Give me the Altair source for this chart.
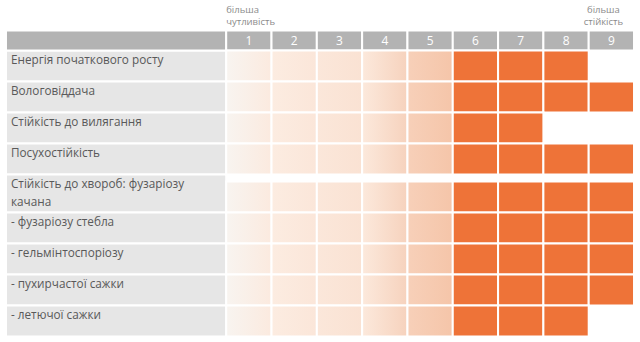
import altair as alt
import pandas as pd

# ---- data ----
traits = [
    "Енергія початкового росту",
    "Вологовіддача",
    "Стійкість до вилягання",
    "Посухостійкість",
    "Стійкість до хвороб: фузаріозу\nкачана",
    "- фузаріозу стебла",
    "- гельмінтоспоріозу",
    "- пухирчастої сажки",
    "- летючої сажки",
]
scores = [8, 9, 7, 9, 9, 9, 9, 9, 8]
scale_points = [1, 2, 3, 4, 5, 6, 7, 8, 9]
note_low = "більша\nчутливість"
note_high = "більша\nстійкість"

# ---- style / layout constants ----
FONT = "Open Sans"
LABEL_W = 4.86          # width of the label column in column units
HEADER_H = 0.645        # header row height in row units
ANNOT_H = 0.807         # space above header
EXTRA_LINE = 0.226      # extra row height per extra text line
ORANGE = "#ee7338"
GRAD = {
    1: ("#f8f4f0", "#fbeadf"),
    2: ("#fcece1", "#fbe6d9"),
    3: ("#fbe7da", "#fae2d3"),
    4: ("#fce9dc", "#f6d2bd"),
    5: ("#f7d0b9", "#f5c5a9"),
}

# ---- tables ----
rows = []
bottom = 0.0
for t, s in zip(traits, scores):
    h = 1 + EXTRA_LINE * t.count("\n")
    top = bottom
    bottom = top + h
    rows.append({"trait": t, "score": s, "top": top, "bottom": bottom,
                 "x0": -LABEL_W, "x1": 0})
rows_df = pd.DataFrame(rows)
TOTAL = bottom

cells = []
for r in rows:
    for c in scale_points:
        if c <= r["score"]:
            cells.append({"trait": r["trait"], "col": c, "x0": c - 1, "x1": c,
                          "y0": r["bottom"] - 1, "y1": r["bottom"]})
cells_df = pd.DataFrame(cells)

header = [{"lab": "", "x0": -LABEL_W, "x1": 0, "xc": -LABEL_W / 2}]
header += [{"lab": str(c), "x0": c - 1, "x1": c, "xc": c - 0.5} for c in scale_points]
header_df = pd.DataFrame(header)
header_df["y0"] = -HEADER_H
header_df["y1"] = 0.0
header_df["ym"] = -HEADER_H / 2

TOP = -(HEADER_H + ANNOT_H)
notes_df = pd.DataFrame([{"txt": note_low, "x": scale_points[0] - 1, "y": TOP}])
notes2_df = pd.DataFrame([{"txt": note_high, "x": scale_points[-1] - 0.5, "y": TOP}])

xs = alt.Scale(domain=[-LABEL_W, 9], nice=False, zero=False)
ys = alt.Scale(domain=[TOP, TOTAL], nice=False, zero=False, reverse=True)


def X(f):
    return alt.X(f, type="quantitative", scale=xs, axis=None)


def Y(f):
    return alt.Y(f, type="quantitative", scale=ys, axis=None)


label_bg = alt.Chart(rows_df).mark_rect(fill="#e6e6e6", stroke="white", strokeWidth=2).encode(
    x=X("x0"), x2="x1", y=Y("top"), y2="bottom")

label_txt = alt.Chart(rows_df).mark_text(
    align="left", baseline="top", dx=5, dy=5, font=FONT, fontSize=11.8,
    color="#595959", lineBreak="\n", lineHeight=17.5).encode(
    x=X("x0"), y=Y("top"), text="trait")

head_bg = alt.Chart(header_df).mark_rect(fill="#b3b3b3", stroke="white", strokeWidth=2).encode(
    x=X("x0"), x2="x1", y=Y("y0"), y2="y1")

head_txt = alt.Chart(header_df).mark_text(
    font=FONT, fontSize=12, color="white", baseline="middle", align="center").encode(
    x=X("xc"), y=Y("ym"), text="lab")

grad_layers = []
for c, (a, b) in GRAD.items():
    g = alt.LinearGradient(gradient="linear",
                           stops=[alt.GradientStop(offset=0, color=a),
                                  alt.GradientStop(offset=1, color=b)],
                           x1=0, x2=1, y1=0, y2=0)
    grad_layers.append(
        alt.Chart(cells_df).transform_filter(alt.datum.col == c)
        .mark_rect(fill=g, stroke="white", strokeWidth=2)
        .encode(x=X("x0"), x2="x1", y=Y("y0"), y2="y1")
    )

orange = alt.Chart(cells_df).transform_filter(alt.datum.col >= 6).mark_rect(
    fill=ORANGE, stroke="white", strokeWidth=2).encode(
    x=X("x0"), x2="x1", y=Y("y0"), y2="y1")

note1 = alt.Chart(notes_df).mark_text(
    align="left", baseline="top", dy=0, font=FONT, fontSize=9.5,
    color="#8a8a8a", lineBreak="\n", lineHeight=12).encode(
    x=X("x"), y=Y("y"), text="txt")

note2 = alt.Chart(notes2_df).mark_text(
    align="center", baseline="top", dx=-8, dy=0, font=FONT, fontSize=9.5,
    color="#8a8a8a", lineBreak="\n", lineHeight=12).encode(
    x=X("x"), y=Y("y"), text="txt")

chart = alt.layer(label_bg, head_bg, *grad_layers, orange, label_txt, head_txt, note1, note2).properties(
    width=630, height=332, background="white"
).configure_view(stroke=None)

chart.save("out.html", embed_options={"renderer": "svg", "actions": False})
